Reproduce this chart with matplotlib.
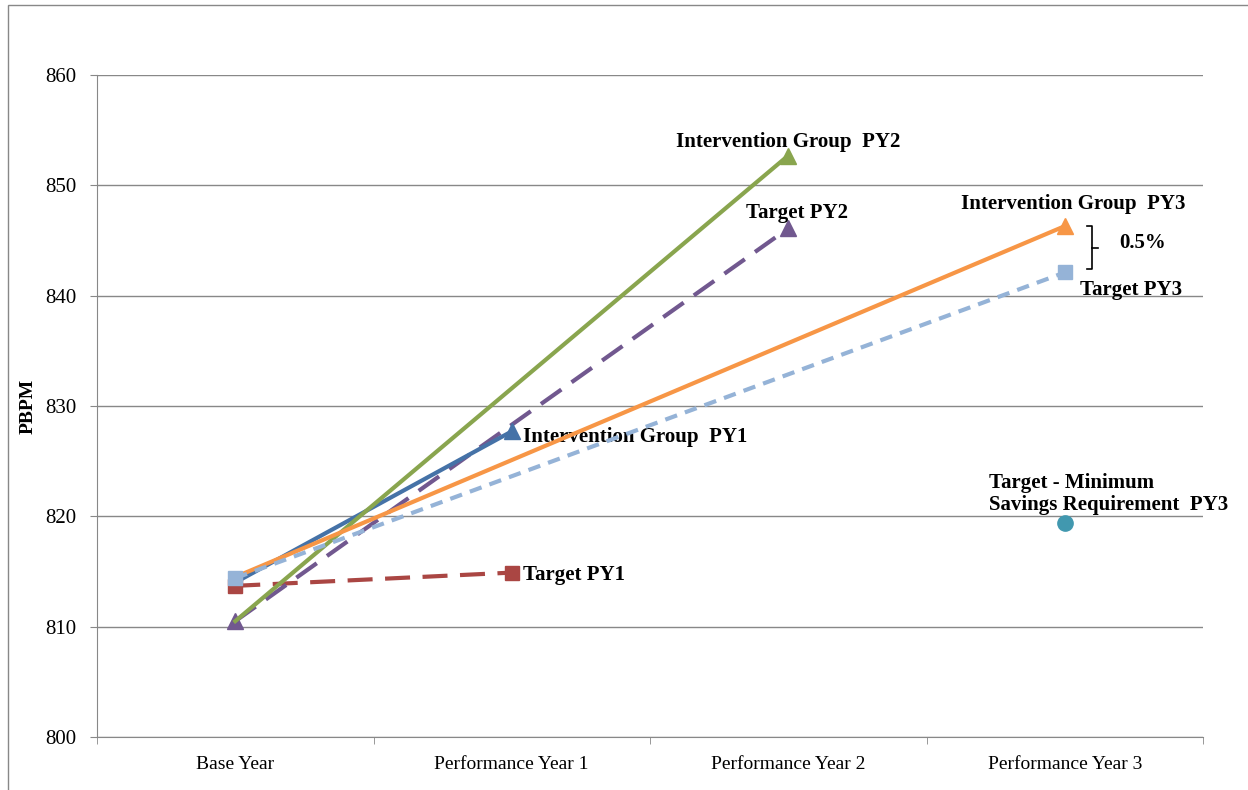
import numpy as np
from matplotlib import pyplot as plt
from matplotlib.patches import Rectangle

categories = ["Base Year", "Performance Year 1", "Performance Year 2", "Performance Year 3"]

ig_py1 = [814.0, 827.7]
target_py1 = [813.7, 814.9]
ig_py2 = [810.5, 852.7]
target_py2 = [810.5, 846.1]
ig_py3 = [814.5, 846.3]
target_py3 = [814.4, 842.1]
target_min_py3 = 819.4

plt.rcParams['font.family'] = ['Liberation Serif', 'DejaVu Serif']

fig = plt.figure(figsize=(12.48, 7.9), dpi=100)
ax = fig.add_axes([97/1248, 1-737/790, 1106/1248, 662/790])

# outer frame
fig.patches.append(Rectangle((8/1248, -0.05), 1.2, 1-5/790+0.05, transform=fig.transFigure,
                             fill=False, edgecolor="#888888", lw=1.0))

x = np.arange(len(categories))

ax.plot([x[0], x[1]], ig_py1, color="#4572A7", lw=3, marker="^", markevery=[1], ms=11, zorder=4)
ax.plot([x[0], x[1]], target_py1, color="#AA4643", lw=3, ls=(0, (6, 3)), marker="s", markevery=[0, 1], ms=10, zorder=3)
ax.plot([x[0], x[2]], ig_py2, color="#89A54E", lw=3, marker="^", markevery=[1], ms=11, zorder=4)
ax.plot([x[0], x[2]], target_py2, color="#71588F", lw=3, ls=(0, (6, 3)), marker="^", markevery=[0, 1], ms=11, zorder=3)
ax.plot([x[0], x[3]], ig_py3, color="#F79646", lw=3, marker="^", markevery=[1], ms=11, zorder=4)
ax.plot([x[0], x[3]], target_py3, color="#95B3D7", lw=3, ls=(0, (3, 2)), marker="s", markevery=[0, 1], ms=10, zorder=5)
ax.plot([x[3]], [target_min_py3], color="#4198AF", marker="o", ms=11, ls="none", zorder=5)

tk = dict(fontsize=15, fontweight="bold", color="black")
ax.text(x[1] + 0.04, ig_py1[1] - 0.5, "Intervention Group  PY1", ha="left", va="center", **tk)
ax.text(x[1] + 0.04, target_py1[1] - 0.2, "Target PY1", ha="left", va="center", **tk)
ax.text(x[2], ig_py2[1] + 1.2, "Intervention Group  PY2", ha="center", va="center", **tk)
ax.text(x[2] + 0.03, target_py2[1] + 1.4, "Target PY2", ha="center", va="center", **tk)
ax.text(x[3] + 0.03, ig_py3[1] + 2.0, "Intervention Group  PY3", ha="center", va="center", **tk)
ax.text(x[3] + 0.24, target_py3[1] - 1.6, "Target PY3", ha="center", va="center", **tk)
ax.text(x[3] - 0.275, target_min_py3 + 2.6, "Target - Minimum\nSavings Requirement  PY3",
        ha="left", va="center", linespacing=1.15, **tk)

# bracket for the 0.5% gap
bx = x[3] + 0.1
ax.plot([bx - 0.02, bx, bx, bx - 0.02], [ig_py3[1], ig_py3[1], target_py3[1] + 0.3, target_py3[1] + 0.3],
        color="black", lw=1.2, clip_on=False)
ax.plot([bx, bx + 0.02], [(ig_py3[1] + target_py3[1]) / 2 + 0.1] * 2, color="black", lw=1.2)
ax.text(bx + 0.18, (ig_py3[1] + target_py3[1]) / 2 + 0.6, "0.5%", ha="center", va="center", **tk)

ax.set_xlim(-0.5, 3.5)
ax.set_ylim(800, 860)
ax.set_yticks(np.arange(800, 861, 10))
ax.set_xticks(x)
ax.set_xticklabels(categories, fontsize=14)
ax.set_xticks(np.arange(-0.5, 3.6, 1), minor=True)
ax.tick_params(axis="x", which="major", length=0, pad=14)
ax.tick_params(axis="x", which="minor", length=5, color="#888888")
ax.tick_params(axis="y", length=5, color="#888888", labelsize=15, pad=10)
ax.yaxis.grid(True, color="#888888", lw=1)
ax.set_axisbelow(True)
for s in ["top", "right"]:
    ax.spines[s].set_visible(False)
for s in ["left", "bottom"]:
    ax.spines[s].set_color("#888888")
ax.set_ylabel("PBPM", fontsize=14, fontweight="bold", labelpad=6)

fig.savefig("out.png", dpi=100)
